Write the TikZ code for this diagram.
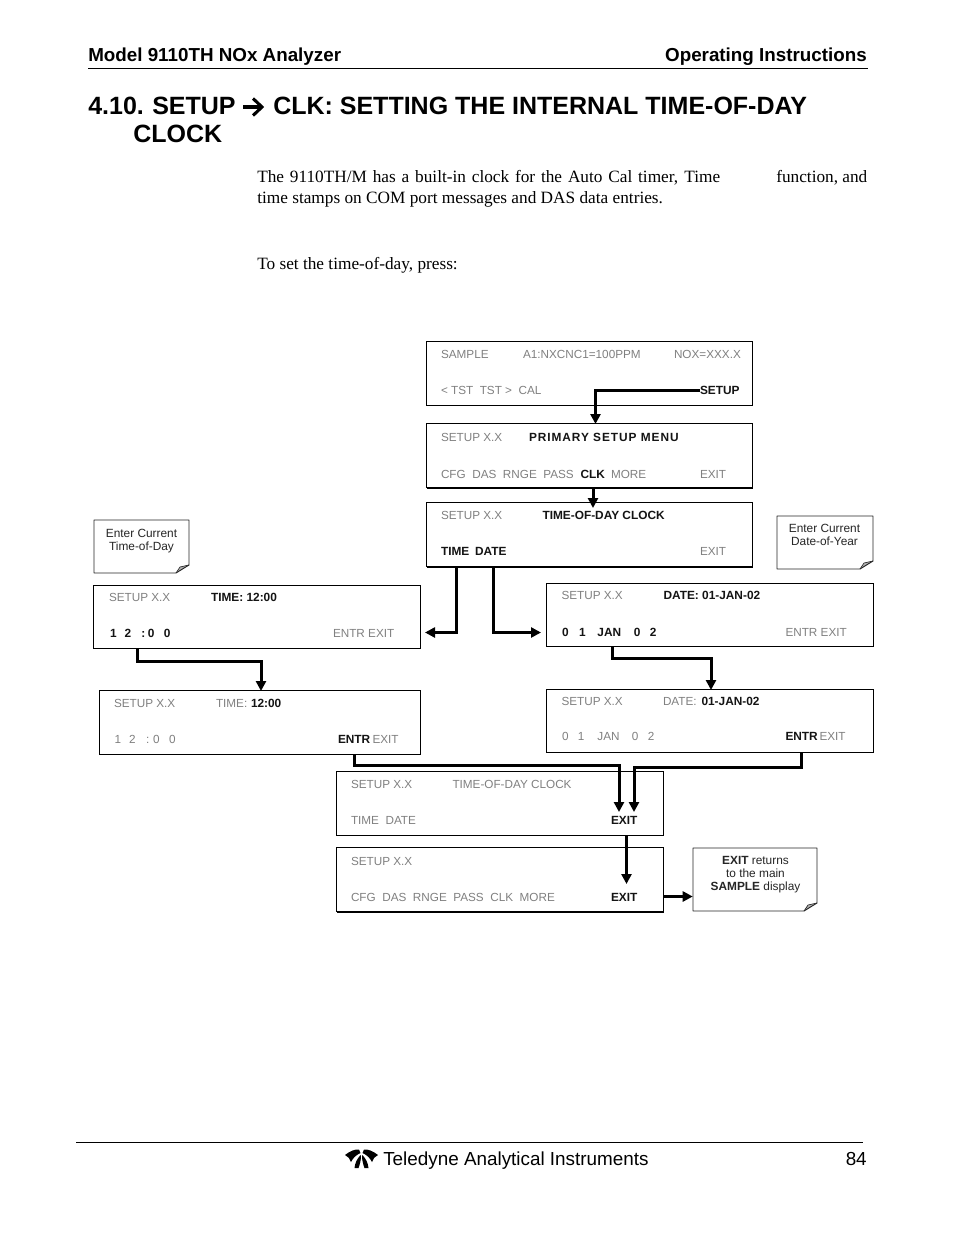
\documentclass[tikz,border=0pt]{standalone}
\usepackage{fontspec}
\setmainfont{Liberation Serif}
\setsansfont{Liberation Sans}
\usetikzlibrary{arrows.meta}
\definecolor{lcd}{gray}{0.5}
\definecolor{lcdk}{gray}{0.08}
\tikzset{
  lab/.style={anchor=base west,inner sep=0pt,outer sep=0pt,font=\sffamily\fontsize{8.8}{11}\selectfont,text=lcd},
  labb/.style={lab,font=\sffamily\bfseries\fontsize{8.9}{11}\selectfont,text=lcdk},
  scrbox/.style={draw=black,line width=0.6pt,inner sep=0pt,outer sep=0pt},
  flow/.style={draw=black,line width=2.25pt,line join=miter,-{Triangle[width=7.5pt,length=7.5pt]}},
  head/.style={anchor=base west,inner sep=0pt,font=\sffamily\bfseries\fontsize{14.1}{16}\selectfont},
  ttl/.style={anchor=base west,inner sep=0pt,font=\sffamily\bfseries\fontsize{18.75}{22}\selectfont},
  body/.style={anchor=base west,inner sep=0pt,font=\rmfamily\fontsize{12.95}{16}\selectfont},
  foot/.style={anchor=base west,inner sep=0pt,font=\sffamily\fontsize{14.15}{16}\selectfont},
  notetxt/.style={anchor=base,inner sep=0pt,font=\sffamily\fontsize{8.9}{11}\selectfont,text=black!85},
  logo/.style={fill=black,draw=none}
}
\newcommand{\dgt}[2]{\rlap{\hspace{#1pt}#2}}
% name x1 y1 x2 y2
\newcommand{\Scr}[5]{%
  \pgfmathsetmacro{\cxx}{(#2+#4)/2}\pgfmathsetmacro{\cyy}{(#3+#5)/2}%
  \pgfmathsetmacro{\www}{(#4-#2+1)*0.75}\pgfmathsetmacro{\hhh}{(#5-#3+1)*0.75}%
  \node[scrbox,minimum width=\www pt,minimum height=\hhh pt] (#1) at (\cxx,\cyy) {};}
% name x1 y1 x2 y2 : folded note
\newcommand{\Note}[5]{%
  \pgfmathsetmacro{\cxx}{(#2+#4)/2}\pgfmathsetmacro{\cyy}{(#3+#5)/2}%
  \pgfmathsetmacro{\www}{(#4-#2)*0.75}\pgfmathsetmacro{\hhh}{(#5-#3)*0.75}%
  \node[inner sep=0pt,minimum width=\www pt,minimum height=\hhh pt] (#1) at (\cxx,\cyy) {};
  \fill[black!30] (#4,#5-8) -- (#4-9,#5-6) -- (#4-13,#5) -- cycle;
  \draw[black!85,line width=0.7pt,line join=round] (#2,#3) -- (#4,#3) -- (#4,#5-8) -- (#4-13,#5) -- (#2,#5) -- cycle;
  \draw[black!85,line width=0.5pt] (#4,#5-8) -- (#4-9,#5-6) -- (#4-13,#5);}
\begin{document}
\begin{tikzpicture}[x=0.75pt,y=-0.75pt]
\useasboundingbox (0,0) rectangle (954,1235);
\fill[white] (0,0) rectangle (954,1235);
% header
\node[head] (h1) at (88,61) {Model 9110TH NOx Analyzer};
\node[head,anchor=base east] (h2) at (867,61) {Operating Instructions};
\draw[line width=0.75pt] (88,68.5) -- (868,68.5);
% title
\node[ttl] (t0) at (88,114.5) {4.10.};
\node[ttl] (t1) at (152,114.5) {SETUP};
\node[ttl] (t1c) at (273,114.5) {CLK: SETTING THE INTERNAL TIME-OF-DAY};
\node[ttl] (t2) at (133,142.5) {CLOCK};
\draw[line width=2.3pt,line join=miter] (243,107) -- (261,107);
\draw[line width=2.3pt,line join=miter] (253,98.5) -- (262,107) -- (253,115.5);
% body
\node[body] (p1) at (257,182) {\makebox[347.25pt][s]{The 9110TH/M has a built-in clock for the Auto Cal timer, Time}};
\node[body] (p1b) at (776,182) {\makebox[68.25pt][s]{function, and}};
\node[body] (p2) at (257,203) {time stamps on COM port messages and DAS data entries.};
\node[body] (p3) at (257,269) {To set the time-of-day, press:};
% screens
\Scr{b1}{427}{342}{752}{405}
\Scr{b2}{427}{424}{752}{487}
\Scr{b3}{427}{503}{752}{566}
\Scr{bt}{94}{586}{420}{648}
\Scr{bu}{100}{691}{420}{754}
\Scr{bd}{547}{584}{873}{646}
\Scr{be}{547}{690}{873}{752}
\Scr{bc}{337}{772}{663}{835}
\Scr{bs}{337}{848}{663}{911}
\draw[line width=1.5pt] (b2.south west) -- (b2.south east);
\draw[line width=1.5pt] (b3.south west) -- (b3.south east);
\draw[line width=1.5pt] (bs.south west) -- (bs.south east);
\draw[line width=1.2pt] (bd.south west) rectangle (bd.north east);
% notes
\Note{n1}{94}{520}{189}{573}
\Note{n2}{777}{516}{873}{569}
\Note{n3}{693}{848}{817}{911}
\node[notetxt] (n1a) at (141.5,537) {Enter Current};
\node[notetxt] (n1b) at (141.5,550) {Time-of-Day};
\node[notetxt] (n2a) at (824.5,532) {Enter Current};
\node[notetxt] (n2b) at (824.5,545) {Date-of-Year};
\node[notetxt] (n3a) at (755.5,864) {\textbf{EXIT} returns};
\node[notetxt] (n3b) at (755.5,877) {to the main};
\node[notetxt] (n3c) at (755.5,890) {\textbf{SAMPLE} display};
% screen 1
\node[lab] (s1a) at (441,358) {SAMPLE};
\node[lab] (s1b) at (523,358) {A1:NXCNC1=100PPM};
\node[lab] (s1c) at (674,358) {NOX=XXX.X};
\node[lab] (s1d) at (441,394) {< TST\ \ TST >\ \ CAL};
\node[labb] (s1e) at (700,394) {SETUP};
% screen 2
\node[lab] (s2a) at (441,441) {SETUP X.X};
\node[labb,font=\sffamily\bfseries\fontsize{8.9}{11}\selectfont\addfontfeature{LetterSpace=8}] (s2b) at (529,441) {PRIMARY SETUP MENU};
\node[lab] (s2c) at (441,478) {CFG\ \ DAS\ \ RNGE\ \ PASS};
\node[labb] (s2d) at (580.5,478) {CLK};
\node[lab] (s2e) at (611,478) {MORE};
\node[lab] (s2f) at (700,478) {EXIT};
% screen 3
\node[lab] (s3a) at (441,519) {SETUP X.X};
\node[labb] (s3b) at (542.5,519) {TIME-OF-DAY CLOCK};
\node[labb] (s3c) at (441,555) {TIME};
\node[labb] (s3d) at (475,555) {DATE};
\node[lab] (s3e) at (700,555) {EXIT};
% time 1
\node[lab] (t1a) at (109,601) {SETUP X.X};
\node[labb] (t1b) at (211,601) {TIME: 12:00};
\node[labb] (t1d0) at (110,637) {\dgt{0}{1}\dgt{10.9}{2}\dgt{23.6}{:}\dgt{28.5}{0}\dgt{40.5}{0}\phantom{0}};
\node[lab] (t1d) at (333,637) {ENTR EXIT};
% time 2
\node[lab] (t2a) at (114,707) {SETUP X.X};
\node[lab] (t2b) at (216,707) {TIME:};
\node[labb] (t2c) at (251,707) {12:00};
\node[lab] (t2d) at (114.5,743) {\dgt{0}{1}\dgt{11}{2}\dgt{23.8}{:}\dgt{29}{0}\dgt{41}{0}\phantom{0}};
\node[labb] (t2e) at (338,743) {ENTR};
\node[lab] (t2f) at (372.5,743) {EXIT};
% date 1
\node[lab] (d1a) at (561.5,599) {SETUP X.X};
\node[labb] (d1b) at (663.5,599) {DATE: 01-JAN-02};
\node[labb] (d1c) at (562,636) {\dgt{0}{0}\dgt{12.75}{1}\dgt{26.6}{JAN}\dgt{54}{0}\dgt{66}{2}\phantom{0}};
\node[lab] (d1d) at (785.5,636) {ENTR EXIT};
% date 2
\node[lab] (d2a) at (561.5,705) {SETUP X.X};
\node[lab] (d2b) at (663,705) {DATE:};
\node[labb] (d2c) at (701.5,705) {01-JAN-02};
\node[lab] (d2d) at (562,740) {\dgt{0}{0}\dgt{12}{1}\dgt{26.6}{JAN}\dgt{52.5}{0}\dgt{64.5}{2}\phantom{0}};
\node[labb] (d2e) at (785.5,740) {ENTR};
\node[lab] (d2f) at (819.5,740) {EXIT};
% clock
\node[lab] (c1) at (351,788) {SETUP X.X};
\node[lab] (c2) at (452.5,788) {TIME-OF-DAY CLOCK};
\node[lab] (c3) at (351,824) {TIME\ \ DATE};
\node[labb] (c4) at (611,824) {EXIT};
% setup
\node[lab] (m1) at (351,865) {SETUP X.X};
\node[lab] (m2) at (351,901) {CFG\ \ DAS\ \ RNGE\ \ PASS\ \ CLK\ \ MORE};
\node[labb] (m4) at (611,901) {EXIT};
% connectors
\coordinate (a1) at (595.5,424);
\draw[flow] (s1e.west |- 0,390) -- (595.5,390) -- (a1);
\coordinate (a2s) at (593,487); \coordinate (a2e) at (593,508);
\draw[flow] (a2s) -- (a2e);
\coordinate (a3s) at (456.5,566); \coordinate (a3e) at (425,632.5);
\draw[flow] (a3s) -- (456.5,632.5) -- (a3e);
\coordinate (a4s) at (493,566); \coordinate (a4e) at (541,632.5);
\draw[flow] (a4s) -- (493,632.5) -- (a4e);
\coordinate (a5s) at (137,648); \coordinate (a5e) at (261,691);
\draw[flow] (a5s) -- (137,661.5) -- (261,661.5) -- (a5e);
\coordinate (a6s) at (612,646); \coordinate (a6e) at (711,690);
\draw[flow] (a6s) -- (612,658.5) -- (711,658.5) -- (a6e);
\coordinate (a7s) at (354.5,754); \coordinate (a7e) at (619,812);
\draw[flow] (a7s) -- (354.5,765) -- (619,765) -- (a7e);
\coordinate (a8s) at (801,752); \coordinate (a8e) at (634,812);
\draw[flow] (a8s) -- (801,767.5) -- (634,767.5) -- (a8e);
\coordinate (a9s) at (626.5,835); \coordinate (a9e) at (626.5,884);
\draw[flow] (a9s) -- (a9e);
\coordinate (a10s) at (663,896.5);
\draw[flow] (a10s) -- (n3.west |- a10s);
% footer
\draw[line width=0.75pt] (76,1142.5) -- (863,1142.5);
\node[foot] (f1) at (383,1165) {Teledyne Analytical Instruments};
\node[foot,anchor=base east] (f2) at (867,1165) {84};
% logo
\fill[logo] (345,1155) .. controls (350,1151) and (355,1149) .. (359,1149.5) -- (360.5,1153) .. controls (356,1155) and (353,1158) .. (351,1162) .. controls (350,1159) and (348,1156) .. (345,1155) -- cycle;
\fill[logo] (378,1155) .. controls (373,1151) and (368,1149) .. (364,1149.5) -- (362.5,1153) .. controls (367,1155) and (370,1158) .. (372,1162) .. controls (373,1159) and (375,1156) .. (378,1155) -- cycle;
\fill[logo] (360.5,1155) .. controls (357,1159) and (355,1163) .. (354.5,1168) -- (358.5,1168) .. controls (360,1164) and (361,1160) .. (361,1156) -- cycle;
\fill[logo] (362.5,1155) .. controls (366,1159) and (368,1163) .. (368.5,1168) -- (364.5,1168) .. controls (363,1164) and (362,1160) .. (362,1156) -- cycle;
\end{tikzpicture}
\end{document}
